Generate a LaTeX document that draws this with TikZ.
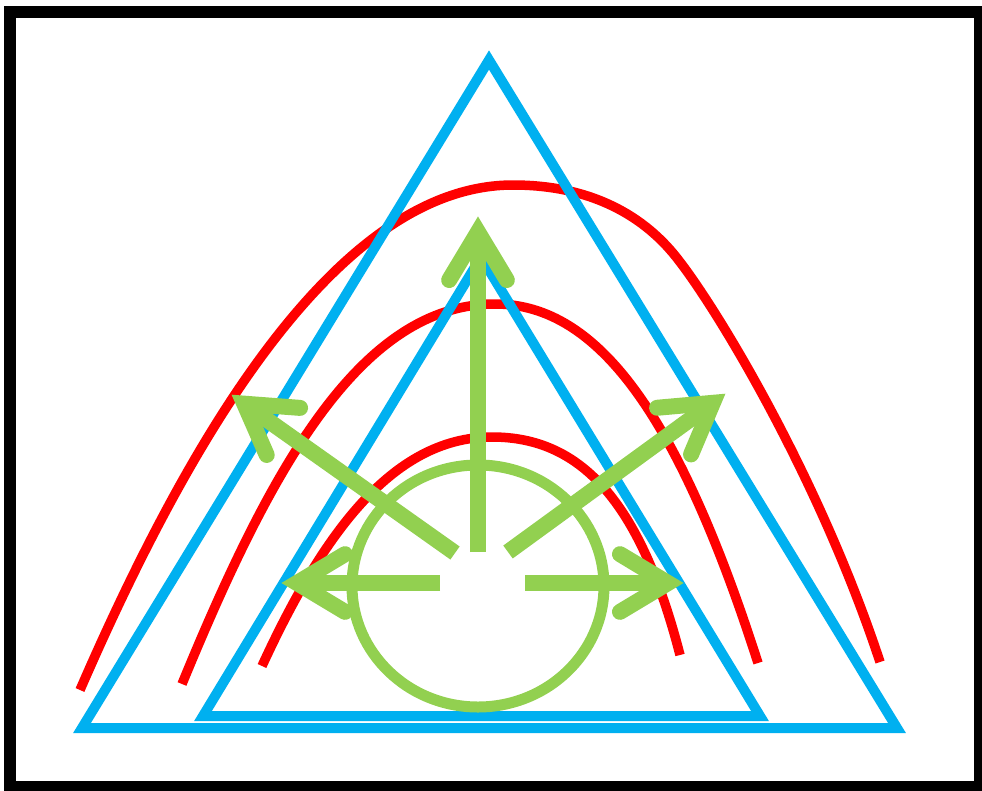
\documentclass[tikz,border=0pt]{standalone}
\usetikzlibrary{calc}
\definecolor{skyblue}{HTML}{00B0F0}
\definecolor{pptred}{HTML}{FF0000}
\definecolor{pptgreen}{HTML}{92D050}
\tikzset{
  frame/.style={draw=black,line width=12pt},
  tri/.style={draw=skyblue,line width=10pt,line join=miter},
  wave/.style={draw=pptred,line width=9.5pt,line cap=butt},
  ring/.style={draw=pptgreen,line width=11pt},
  shaft/.style={draw=pptgreen,line width=16pt,line cap=butt},
  barbs/.style={draw=pptgreen,line width=16pt,line cap=round,line join=miter},
}
\newcommand{\greenarrow}[3]{%
  \coordinate (#1c) at ($(#3)!15pt!(#2)$);
  \coordinate (#1l) at ($(#1c)!56pt!31:(#2)$);
  \coordinate (#1r) at ($(#1c)!56pt!-31:(#2)$);
  \draw[shaft] (#2) -- (#1c);
  \draw[barbs] (#1l) -- (#1c) -- (#1r);
}
\begin{document}
\begin{tikzpicture}[x=1pt,y=-1pt]
\useasboundingbox (0,0) rectangle (982,790);
\fill[white] (0,0) rectangle (982,790);
% frame
\draw[frame] (10,12) rectangle (980,787);
% red curves
\coordinate (r1s) at (80,690); \coordinate (r1p) at (513,185); \coordinate (r1k) at (680,262); \coordinate (r1e) at (880,662);
\coordinate (r2s) at (182,684); \coordinate (r2p) at (495,304); \coordinate (r2e) at (758,663);
\coordinate (r3s) at (262,666); \coordinate (r3p) at (492,437); \coordinate (r3e) at (680,655);
\draw[wave] (r1s) .. controls (180,460) and (330,185) .. (r1p)
                  .. controls (590,185) and (645,215) .. (r1k)
                  .. controls (720,314) and (820,480) .. (r1e);
\draw[wave] (r2s) .. controls (270,470) and (360,304) .. (r2p)
                  .. controls (600,304) and (680,420) .. (r2e);
\draw[wave] (r3s) .. controls (320,540) and (390,437) .. (r3p)
                  .. controls (580,437) and (640,500) .. (r3e);
% blue triangles
\coordinate (oa) at (489,60);
\coordinate (ol) at (82,728);
\coordinate (or) at (897,728);
\coordinate (ia) at (481,257);
\coordinate (il) at (203,716);
\coordinate (ir) at (760,716);
\draw[tri] (oa) -- (ol) -- (or) -- cycle;
\draw[tri] (ia) -- (il) -- (ir) -- cycle;
% green circle
\coordinate (circ) at (478,586);
\draw[ring] (circ) ellipse [x radius=126, y radius=121];
% green arrows
\coordinate (vS) at (478,552); \coordinate (vT) at (478,217);
\coordinate (dlS) at (455,553); \coordinate (dlT) at (232,395);
\coordinate (drS) at (508,552); \coordinate (drT) at (725,394);
\coordinate (hlS) at (440,583); \coordinate (hlT) at (282,583);
\coordinate (hrS) at (525,583); \coordinate (hrT) at (683,583);
\greenarrow{v}{vS}{vT}
\greenarrow{dl}{dlS}{dlT}
\greenarrow{dr}{drS}{drT}
\greenarrow{hl}{hlS}{hlT}
\greenarrow{hr}{hrS}{hrT}
\end{tikzpicture}
\end{document}
